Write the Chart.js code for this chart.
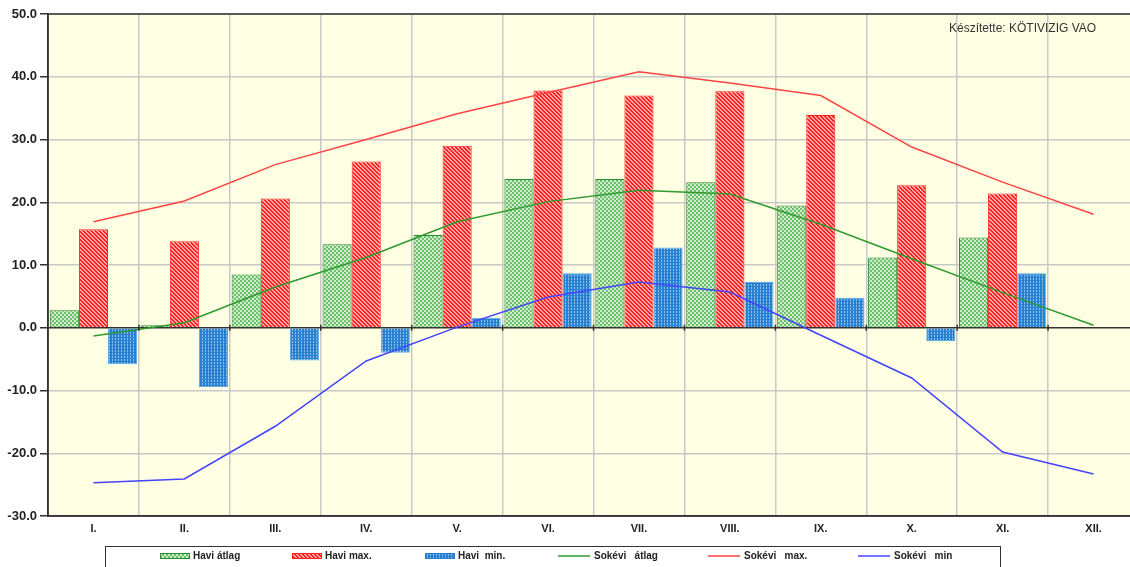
<!DOCTYPE html>
<html>
<head>
<meta charset="utf-8">
<script src="https://cdn.jsdelivr.net/npm/chart.js@4/dist/chart.umd.min.js"></script>
<style>
  html, body { margin: 0; padding: 0; background: #fff; overflow: hidden; }
  #wrap { width: 1142px; height: 567px; }
</style>
</head>
<body>
<div id="wrap"><canvas id="homersekletChart" width="1142" height="567"></canvas></div>
<script>
// Hónapok
const honapok = ["I.", "II.", "III.", "IV.", "V.", "VI.", "VII.", "VIII.", "IX.", "X.", "XI.", "XII."];

// Havi értékek (oszlopok) - XII. hiányzik
const haviAtlag = [2.8, 0.4, 8.5, 13.3, 14.8, 23.7, 23.7, 23.2, 19.5, 11.2, 14.4, null];
const haviMax = [15.7, 13.8, 20.6, 26.5, 29.0, 37.8, 37.0, 37.7, 33.9, 22.7, 21.4, null];
const haviMin = [-5.8, -9.5, -5.2, -4.0, 1.6, 8.7, 12.8, 7.3, 4.8, -2.1, 8.7, null];

// Sokévi értékek (vonalak)
const sokeviAtlag = [-1.3, 0.8, 6.5, 11.2, 16.9, 20.1, 21.9, 21.3, 16.5, 11.0, 5.6, 0.4];
const sokeviMax = [16.9, 20.2, 26.0, 30.0, 34.1, 37.5, 40.8, 39.0, 37.0, 28.8, 23.2, 18.1];
const sokeviMin = [-24.7, -24.1, -15.7, -5.3, 0.1, 4.9, 7.3, 5.7, -1.2, -8.0, -19.8, -23.3];

// Tengely felirat
const yTicks = { min: -30, max: 50, step: 10 };

// Mintázatok
function makePattern(size, draw) {
  const c = document.createElement("canvas");
  c.width = size; c.height = size;
  const g = c.getContext("2d");
  draw(g, size);
  return g.createPattern(c, "repeat");
}
const mintaZold = makePattern(4, (g) => {
  g.fillStyle = "#cfeccb"; g.fillRect(0, 0, 4, 4);
  g.fillStyle = "#6cbf6c"; g.fillRect(0, 0, 2, 2); g.fillRect(2, 2, 2, 2);
});
const mintaPiros = makePattern(4, (g) => {
  g.fillStyle = "#ffa8a8"; g.fillRect(0, 0, 4, 4);
  g.fillStyle = "#ff1e1e";
  for (let i = 0; i < 4; i++) { g.fillRect(i, i, 1, 1); g.fillRect((i + 1) % 4, i, 1, 1); }
});
const mintaKek = makePattern(3, (g) => {
  g.fillStyle = "#2a80d0"; g.fillRect(0, 0, 3, 3);
  g.fillStyle = "#8cc0ee"; g.fillRect(1, 0, 1, 1); g.fillRect(1, 2, 1, 1);
});

// Háttér, keret, felirat, jelmagyarázat
const diszitesPlugin = {
  id: "diszites",
  beforeDraw(chart) {
    const { ctx, chartArea: a } = chart;
    ctx.save();
    ctx.fillStyle = "#ffffe4";
    ctx.fillRect(a.left, a.top, a.right - a.left, a.bottom - a.top);
    ctx.restore();
  },
  afterDraw(chart) {
    const { ctx, chartArea: a, scales } = chart;
    ctx.save();
    // keret
    ctx.strokeStyle = "#333";
    ctx.lineWidth = 1.5;
    ctx.strokeRect(a.left, a.top, a.right - a.left, a.bottom - a.top);
    // kis jelek a 0 vonalon
    const y0 = scales.y.getPixelForValue(0);
    const n = honapok.length;
    const w = (a.right - a.left) / n;
    for (let i = 1; i < n; i++) {
      const x = a.left + i * w;
      ctx.beginPath(); ctx.moveTo(x, y0 - 3); ctx.lineTo(x, y0 + 3); ctx.stroke();
    }
    // készítette
    ctx.fillStyle = "#333";
    ctx.font = "12px 'Liberation Sans', Arial, sans-serif";
    ctx.textAlign = "left";
    ctx.textBaseline = "middle";
    ctx.fillText("Készítette: KÖTIVIZIG VAO", 949, 29);
    // jelmagyarázat
    ctx.strokeStyle = "#333";
    ctx.lineWidth = 1;
    ctx.strokeRect(105.5, 546.5, 895, 30);
    const tetelek = [
      { x: 160, fill: mintaZold, border: "#2e8b2e", text: "Havi átlag" },
      { x: 292, fill: mintaPiros, border: "#ff2222", text: "Havi max." },
      { x: 425, fill: mintaKek, border: "#2a80d0", text: "Havi  min." },
      { x: 558, line: "#2e9a2e", text: "Sokévi   átlag" },
      { x: 708, line: "#ff4444", text: "Sokévi   max." },
      { x: 858, line: "#4444ff", text: "Sokévi   min" },
    ];
    ctx.font = "bold 10px 'Liberation Sans Narrow', 'Liberation Sans', Arial, sans-serif";
    const ly = 556;
    tetelek.forEach((t) => {
      if (t.fill) {
        ctx.fillStyle = t.fill;
        ctx.fillRect(t.x, ly - 3, 30, 6);
        ctx.strokeStyle = t.border;
        ctx.strokeRect(t.x + 0.5, ly - 2.5, 29, 5);
      } else {
        ctx.strokeStyle = t.line;
        ctx.lineWidth = 1.5;
        ctx.beginPath(); ctx.moveTo(t.x, ly); ctx.lineTo(t.x + 32, ly); ctx.stroke();
        ctx.lineWidth = 1;
      }
      ctx.fillStyle = "#222";
      ctx.fillText(t.text, t.x + (t.fill ? 33 : 36), ly);
    });
    ctx.restore();
  },
};

const vonal = (label, data, color) => ({
  type: "line",
  label,
  data,
  borderColor: color,
  borderWidth: 1.5,
  pointRadius: 0,
  tension: 0,
  fill: false,
  order: 0,
});
const oszlop = (label, data, fill, border) => ({
  type: "bar",
  label,
  data,
  backgroundColor: fill,
  borderColor: border,
  borderWidth: 1,
  order: 1,
});

new Chart(document.getElementById("homersekletChart"), {
  data: {
    labels: honapok,
    datasets: [
      oszlop("Havi átlag", haviAtlag, mintaZold, "#2e8b2e"),
      oszlop("Havi max.", haviMax, mintaPiros, "#ff2222"),
      oszlop("Havi min.", haviMin, mintaKek, "#5aa8e8"),
      vonal("Sokévi átlag", sokeviAtlag, "#2e9a2e"),
      vonal("Sokévi max.", sokeviMax, "#ff4444"),
      vonal("Sokévi min", sokeviMin, "#4444ff"),
    ],
  },
  options: {
    responsive: false,
    animation: false,
    datasets: { bar: { categoryPercentage: 0.96, barPercentage: 1.0 } },
    layout: { padding: { top: 14, right: 3, left: 0, bottom: 0 } },
    plugins: { legend: { display: false }, tooltip: { enabled: false } },
    scales: {
      x: {
        offset: true,
        grid: { offset: true, color: "#c8c8c8", lineWidth: 1.5, drawTicks: false },
        border: { display: true, color: "#333", width: 1.5 },
        ticks: { color: "#222", font: { family: "'Liberation Sans', Arial", size: 11, weight: "bold" }, padding: 6, maxRotation: 0 },
        afterFit: (s) => { s.height = 51; },
      },
      y: {
        min: yTicks.min,
        max: yTicks.max,
        grid: {
          color: (c) => (c.tick && c.tick.value === 0 ? "#333" : "#c8c8c8"),
          lineWidth: 1.5,
          tickLength: 8,
          tickColor: "#333",
        },
        border: { display: true, color: "#333", width: 1.5 },
        ticks: {
          stepSize: yTicks.step,
          color: "#222",
          padding: 3,
          font: { family: "'Liberation Sans', Arial", size: 13, weight: "bold" },
          callback: (v) => v.toFixed(1),
        },
        afterFit: (s) => { s.width = 48; },
      },
    },
  },
  plugins: [diszitesPlugin],
});
</script>
</body>
</html>
